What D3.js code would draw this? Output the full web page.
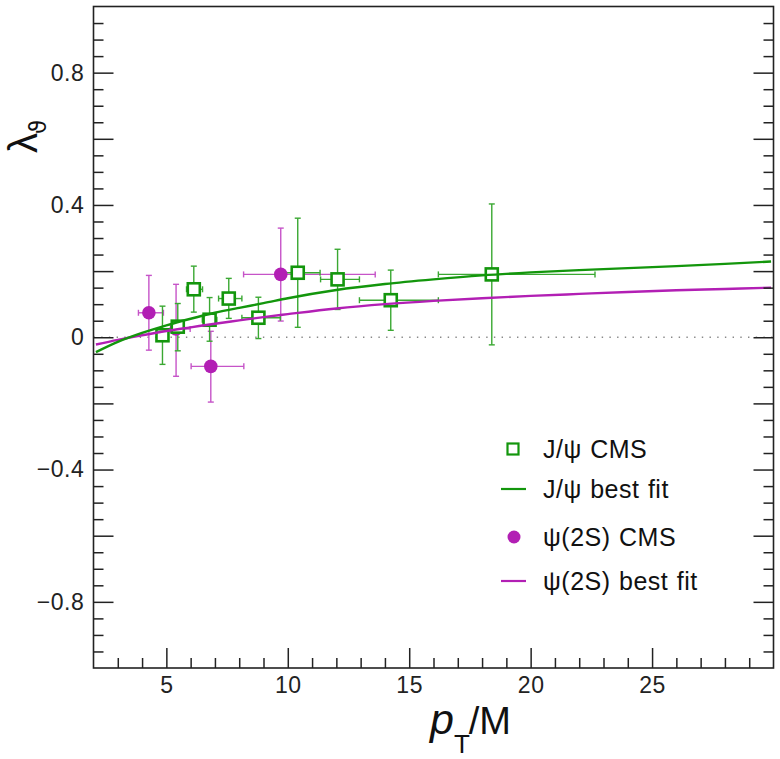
<!DOCTYPE html>
<html>
<head>
<meta charset="utf-8">
<script src="https://cdn.jsdelivr.net/npm/d3@7/dist/d3.min.js"></script>
<style>
  html, body { margin: 0; padding: 0; background: #fff; }
  svg { display: block; font-family: "Liberation Sans", Arial, Helvetica, sans-serif; }
</style>
</head>
<body>
<svg id="chart" width="780" height="759"></svg>
<script>
// ---------------- data ----------------
// J/psi CMS points
const jpsiX    = [4.84, 5.47, 6.13, 6.78, 7.57, 8.79, 10.41, 12.05, 14.24, 18.40];
const jpsiY    = [0.006, 0.032, 0.145, 0.053, 0.117, 0.059, 0.195, 0.175, 0.112, 0.190];
const jpsiExLo = [0.20, 0.25, 0.30, 0.30, 0.42, 0.68, 0.70, 0.70, 1.29, 2.20];
const jpsiExHi = [0.20, 0.25, 0.36, 0.30, 0.54, 0.90, 0.92, 0.90, 1.96, 4.25];
const jpsiEyLo = [0.088, 0.073, 0.069, 0.065, 0.060, 0.063, 0.165, 0.091, 0.091, 0.213];
const jpsiEyHi = [0.088, 0.070, 0.070, 0.067, 0.061, 0.062, 0.165, 0.091, 0.091, 0.213];

// psi(2S) CMS points
const psi2X    = [4.28, 5.40, 6.83, 9.71];
const psi2Y    = [0.074, 0.025, -0.088, 0.190];
const psi2ExLo = [0.43, 0.58, 0.81, 1.53];
const psi2ExHi = [0.60, 0.58, 1.36, 3.89];
const psi2EyLo = [0.113, 0.143, 0.108, 0.141];
const psi2EyHi = [0.113, 0.135, 0.106, 0.140];

// best-fit curves
const fitX     = [2.1, 3, 4, 5, 6, 7, 8, 9, 10, 12, 14, 16, 18, 20, 22, 24, 26, 28, 29.9];
const jpsiFitY = [-0.045, -0.014, 0.013, 0.036, 0.056, 0.074, 0.089, 0.103, 0.118, 0.143, 0.161, 0.175, 0.187, 0.196, 0.203, 0.209, 0.215, 0.222, 0.229];
const psi2FitY = [-0.022, -0.008, 0.006, 0.019, 0.030, 0.041, 0.051, 0.061, 0.070, 0.087, 0.100, 0.110, 0.118, 0.125, 0.131, 0.137, 0.142, 0.146, 0.150];

// axes
const xDomain = [2, 30];
const yDomain = [-1, 1];
const xMajorTicks = [5, 10, 15, 20, 25];
const yLabelTicks = [-0.8, -0.4, 0, 0.4, 0.8];
const legendLabels = ["J/\u03c8 CMS", "J/\u03c8 best fit", "\u03c8(2S) CMS", "\u03c8(2S) best fit"];

// ---------------- style ----------------
const green = "#13960c", greenErr = "#3aa832";
const mag = "#b21fb4", magErr = "#c654c8";
const axisColor = "#222";

const svg = d3.select("#chart");
const L = 93.5, R = 773.5, T = 6.5, B = 668;
const x = d3.scaleLinear().domain(xDomain).range([L, R]);
const y = d3.scaleLinear().domain(yDomain).range([B, T]);

const plot = svg.append("g");

// zero dotted line
plot.append("line")
  .attr("x1", x(xDomain[0])).attr("x2", x(xDomain[1]))
  .attr("y1", y(0)).attr("y2", y(0))
  .attr("stroke", "#888").attr("stroke-width", 1.4)
  .attr("stroke-dasharray", "1.4,6.3");

// error bars
function errorBars(xs, ys, exl, exh, eyl, eyh, color) {
  const g = plot.append("g").attr("stroke", color).attr("stroke-width", 1.4).attr("fill", "none");
  const cap = 3;
  xs.forEach((xv, i) => {
    const cx = x(xv), cy = y(ys[i]);
    const x0 = x(xv - exl[i]), x1 = x(xv + exh[i]);
    const y0 = y(ys[i] - eyl[i]), y1 = y(ys[i] + eyh[i]);
    g.append("line").attr("x1", x0).attr("x2", x1).attr("y1", cy).attr("y2", cy);
    g.append("line").attr("x1", cx).attr("x2", cx).attr("y1", y0).attr("y2", y1);
    g.append("line").attr("x1", x0).attr("x2", x0).attr("y1", cy - cap).attr("y2", cy + cap);
    g.append("line").attr("x1", x1).attr("x2", x1).attr("y1", cy - cap).attr("y2", cy + cap);
    g.append("line").attr("x1", cx - cap).attr("x2", cx + cap).attr("y1", y0).attr("y2", y0);
    g.append("line").attr("x1", cx - cap).attr("x2", cx + cap).attr("y1", y1).attr("y2", y1);
  });
}
errorBars(psi2X, psi2Y, psi2ExLo, psi2ExHi, psi2EyLo, psi2EyHi, magErr);
errorBars(jpsiX, jpsiY, jpsiExLo, jpsiExHi, jpsiEyLo, jpsiEyHi, greenErr);

// markers
plot.append("g").selectAll("circle").data(psi2X).join("circle")
  .attr("cx", d => x(d)).attr("cy", (d, i) => y(psi2Y[i])).attr("r", 6.8)
  .attr("fill", mag);
const sq = 12;
plot.append("g").selectAll("rect").data(jpsiX).join("rect")
  .attr("x", d => x(d) - sq / 2).attr("y", (d, i) => y(jpsiY[i]) - sq / 2)
  .attr("width", sq).attr("height", sq)
  .attr("fill", "#fff").attr("stroke", green).attr("stroke-width", 2.6);

// fit curves
const line = d3.line().x(d => x(d[0])).y(d => y(d[1])).curve(d3.curveMonotoneX);
plot.append("path").datum(fitX.map((v, i) => [v, psi2FitY[i]]))
  .attr("d", line).attr("fill", "none").attr("stroke", mag).attr("stroke-width", 2.4);
plot.append("path").datum(fitX.map((v, i) => [v, jpsiFitY[i]]))
  .attr("d", line).attr("fill", "none").attr("stroke", green).attr("stroke-width", 2.4);

// ---------------- axes ----------------
const fontSize = 23;
const xMinor = d3.range(3, 30, 1).filter(v => !xMajorTicks.includes(v));
const yMinor = d3.range(-19, 20, 1).map(v => v * 0.05).filter(v => Math.abs(Math.round(v * 20) % 4) !== 0);
const yMajor = d3.range(-4, 5, 1).map(v => v * 0.2);

function styleAxis(g) {
  g.select(".domain").remove();
  g.selectAll(".tick line").attr("stroke", axisColor).attr("stroke-width", 1.5);
  g.selectAll(".tick text").attr("fill", "#222").attr("font-size", fontSize)
    .attr("font-family", "\"Liberation Sans\", Arial, sans-serif")
    .attr("letter-spacing", 0.6);
}
const fmtY = v => {
  const r = Math.round(v * 10) / 10;
  if (!yLabelTicks.some(t => Math.abs(t - r) < 1e-6) || Math.abs(v - r) > 1e-6) return "";
  if (r === 0) return "0";
  return (r < 0 ? "\u2212" : "") + Math.abs(r).toString();
};

// bottom
svg.append("g").attr("transform", `translate(0,${B})`)
  .call(d3.axisBottom(x).tickValues(xMinor).tickSize(-10).tickSizeOuter(0).tickFormat(""))
  .call(styleAxis);
svg.append("g").attr("transform", `translate(0,${B})`)
  .call(d3.axisBottom(x).tickValues(xMajorTicks).tickSize(-20).tickSizeOuter(0).tickPadding(9).tickFormat(d3.format("d")))
  .call(styleAxis)
  .call(g => g.selectAll(".tick text").attr("dy", "0.71em"));
// left
svg.append("g").attr("transform", `translate(${L},0)`)
  .call(d3.axisLeft(y).tickValues(yMinor).tickSize(-10).tickSizeOuter(0).tickFormat(""))
  .call(styleAxis);
svg.append("g").attr("transform", `translate(${L},0)`)
  .call(d3.axisLeft(y).tickValues(yMajor).tickSize(-20).tickSizeOuter(0).tickPadding(9).tickFormat(fmtY))
  .call(styleAxis);
// right
svg.append("g").attr("transform", `translate(${R},0)`)
  .call(d3.axisRight(y).tickValues(yMinor).tickSize(-10).tickSizeOuter(0).tickFormat(""))
  .call(styleAxis);
svg.append("g").attr("transform", `translate(${R},0)`)
  .call(d3.axisRight(y).tickValues(yMajor).tickSize(-20).tickSizeOuter(0).tickFormat(""))
  .call(styleAxis);

// frame
svg.append("rect").attr("x", L).attr("y", T).attr("width", R - L).attr("height", B - T)
  .attr("fill", "none").attr("stroke", axisColor).attr("stroke-width", 1.6);

// axis titles
const xt = svg.append("text").attr("x", 430).attr("y", 734).attr("fill", "#111");
xt.append("tspan").text("p").attr("font-style", "italic").attr("font-size", 43);
xt.append("tspan").text("T").attr("font-size", 26).attr("dy", 19).attr("dx", 0);
xt.append("tspan").text("/M").attr("font-size", 38).attr("dy", -19).attr("dx", -1);

const yt = svg.append("text").attr("transform", "translate(37,153) rotate(-90)").attr("fill", "#111");
yt.append("tspan").text("\u03bb").attr("font-size", 40);
yt.append("tspan").text("\u03d1").attr("font-size", 23).attr("dy", 9).attr("dx", -1)
  .attr("font-family", "\"DejaVu Sans\", sans-serif");

// ---------------- legend ----------------
const lg = svg.append("g").attr("font-size", 25).attr("fill", "#111")
  .attr("letter-spacing", 0.5).attr("word-spacing", 1);
const lx = 513, tx = 543;
const rows = [449, 489, 537, 581];
lg.append("rect").attr("x", lx - 5.5).attr("y", rows[0] - 5.5).attr("width", 11).attr("height", 11)
  .attr("fill", "#fff").attr("stroke", green).attr("stroke-width", 2.2);
lg.append("line").attr("x1", lx - 12).attr("x2", lx + 13).attr("y1", rows[1]).attr("y2", rows[1])
  .attr("stroke", green).attr("stroke-width", 2.2);
lg.append("circle").attr("cx", lx + 1).attr("cy", rows[2]).attr("r", 6.5).attr("fill", mag);
lg.append("line").attr("x1", lx - 12).attr("x2", lx + 13).attr("y1", rows[3]).attr("y2", rows[3])
  .attr("stroke", mag).attr("stroke-width", 2.2);
legendLabels.forEach((t, i) => {
  lg.append("text").attr("x", tx).attr("y", rows[i] + 9).text(t);
});
</script>
</body>
</html>
